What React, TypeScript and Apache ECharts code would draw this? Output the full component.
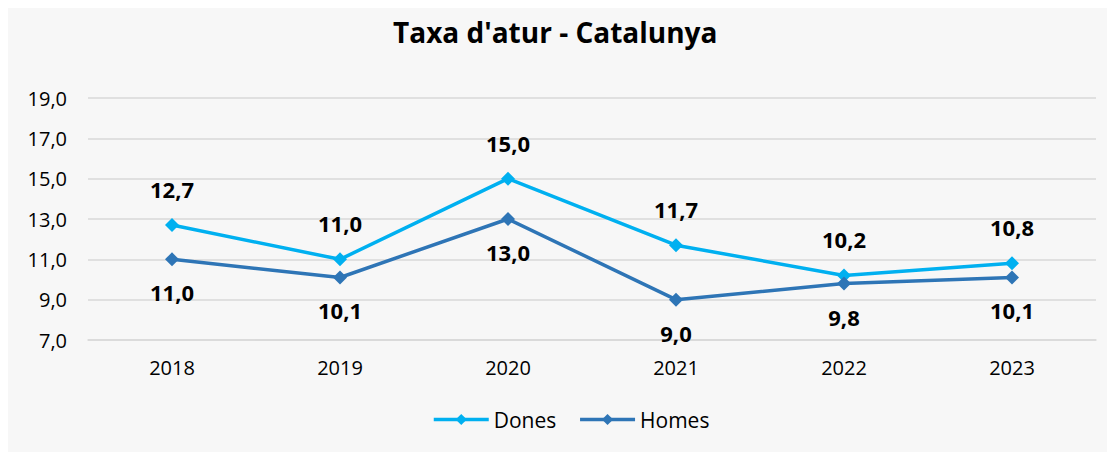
import React, { useEffect, useRef } from "react";
import * as echarts from "echarts";

const years = ["2018", "2019", "2020", "2021", "2022", "2023"];
const dones = [12.7, 11.0, 15.0, 11.7, 10.2, 10.8];
const homes = [11.0, 10.1, 13.0, 9.0, 9.8, 10.1];
const title = "Taxa d'atur - Catalunya";

const fmt = (v: number) => v.toFixed(1).replace(".", ",");
const FONT = "'Open Sans', sans-serif";

export default function App() {
  const ref = useRef<HTMLDivElement>(null);
  useEffect(() => {
    if (!ref.current) return;
    const chart = echarts.init(ref.current, undefined, { renderer: "svg" });
    const labelStyle = {
      show: true,
      fontFamily: FONT,
      fontWeight: "bold" as const,
      fontSize: 22,
      color: "#000",
      formatter: (p: any) => fmt(p.value),
    };
    chart.setOption({
      animation: false,
      backgroundColor: "#f7f7f7",
      title: {
        text: title,
        left: 380,
        top: 5,
        textStyle: { fontFamily: FONT, fontWeight: "bold", fontSize: 28, color: "#000" },
      },
      legend: {
        top: 396,
        left: 419,
        itemWidth: 55,
        itemHeight: 14,
        itemGap: 22,
        textStyle: { fontFamily: FONT, fontSize: 21, color: "#000" },
        lineStyle: { width: 3.5 },
        data: ["Dones", "Homes"],
      },
      grid: { left: 80, right: 11, top: 90, bottom: 112, containLabel: false },
      xAxis: {
        type: "category",
        data: years,
        boundaryGap: true,
        axisLine: { show: true, lineStyle: { color: "#d9d9d9", width: 1.5 } },
        axisTick: { show: false },
        axisLabel: { fontFamily: FONT, fontSize: 20, color: "#000", margin: 17 },
      },
      yAxis: {
        type: "value",
        min: 7,
        max: 19,
        interval: 2,
        axisLine: { show: false },
        axisTick: { show: false },
        splitLine: { lineStyle: { color: "#d9d9d9", width: 1.5 } },
        axisLabel: {
          fontFamily: FONT,
          fontSize: 20,
          color: "#000",
          margin: 21,
          formatter: (v: number) => fmt(v),
        },
      },
      series: [
        {
          name: "Dones",
          type: "line",
          data: dones,
          color: "#00b0f0",
          lineStyle: { width: 3.5 },
          symbol: "diamond",
          symbolSize: 14,
          label: { ...labelStyle, position: "top", distance: 18 },
        },
        {
          name: "Homes",
          type: "line",
          data: homes,
          color: "#2e75b6",
          lineStyle: { width: 3.5 },
          symbol: "diamond",
          symbolSize: 14,
          label: { ...labelStyle, position: "bottom", distance: 15 },
        },
      ],
    });
    return () => chart.dispose();
  }, []);
  return <div ref={ref} style={{ width: 1099, height: 444 }} />;
}
